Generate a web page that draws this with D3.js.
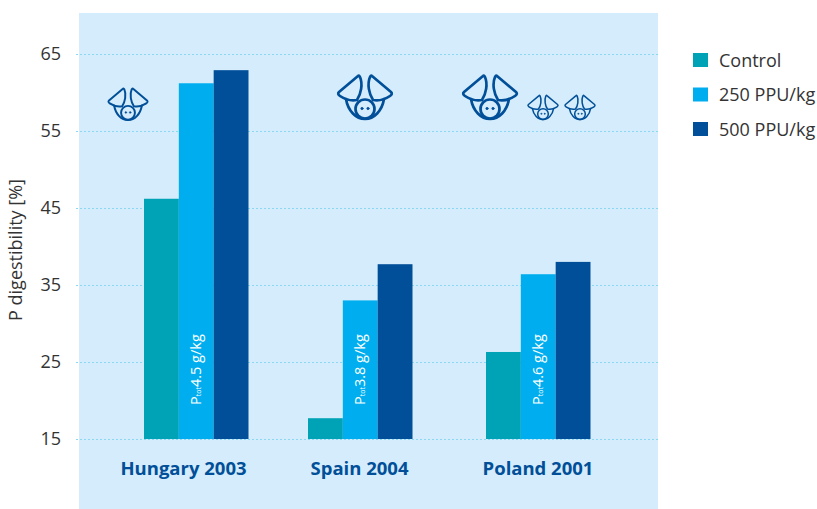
<!DOCTYPE html>
<html>
<head>
<meta charset="utf-8">
<script src="https://cdn.jsdelivr.net/npm/d3@7"></script>
<style>
body { margin: 0; background: #fff; }
svg { display: block; }
text { font-family: "Open Sans", sans-serif; }
</style>
</head>
<body>
<div id="chart"></div>
<script>
// data
var countries = ["Hungary 2003", "Spain 2004", "Poland 2001"];
var series = ["Control", "250 PPU/kg", "500 PPU/kg"];
var control = [46.2, 17.7, 26.3];
var ppu250 = [61.2, 33, 36.4];
var ppu500 = [62.9, 37.7, 38];
var ptot = ["4.5", "3.8", "4.6"];
var yTicks = [15, 25, 35, 45, 55, 65];
var colors = ["#00a3b5", "#00aeef", "#004f98"];

var width = 817, height = 509;
var svg = d3.select("#chart").append("svg")
    .attr("width", width)
    .attr("height", height);

// background panel
svg.append("rect")
    .attr("x", 79).attr("y", 13)
    .attr("width", 579).attr("height", 496)
    .attr("fill", "#d4ecfb");

var y = d3.scaleLinear().domain([15, 65]).range([439, 54]);

// groups are not evenly spaced in the original
var groupX = d3.scaleOrdinal().domain(countries).range([144, 308, 486]);
var labelX = d3.scaleOrdinal().domain(countries).range([183.5, 359.5, 538]);
var barX = d3.scaleBand().domain(series).range([0, 104.5]);

// y axis + grid
var yAxis = d3.axisLeft(y).tickValues(yTicks).tickSize(584).tickPadding(13);
var gy = svg.append("g")
    .attr("transform", "translate(658,0)")
    .call(yAxis);
gy.select(".domain").remove();
gy.selectAll(".tick line")
    .attr("stroke", "#8ad8f6")
    .attr("stroke-width", 1)
    .attr("stroke-dasharray", "2,2");
gy.selectAll(".tick text")
    .attr("font-size", 18)
    .attr("fill", "#333")
    .style("font-family", '"Open Sans", sans-serif');

svg.append("text")
    .attr("transform", "translate(22,250) rotate(-90)")
    .attr("text-anchor", "middle")
    .attr("font-size", 18)
    .attr("fill", "#333")
    .text("P digestibility [%]");

// bars
[control, ppu250, ppu500].forEach(function (values, s) {
    svg.append("g").selectAll("rect")
        .data(values)
        .enter().append("rect")
        .attr("x", function (d, i) { return groupX(countries[i]) + barX(series[s]); })
        .attr("y", function (d) { return y(d); })
        .attr("width", barX.bandwidth())
        .attr("height", function (d) { return y(15) - y(d); })
        .attr("fill", colors[s]);
});

// rotated P tot labels inside the middle bar
var ptotLabel = svg.append("g").selectAll("text")
    .data(ptot)
    .enter().append("text")
    .attr("transform", function (d, i) {
        var cx = groupX(countries[i]) + barX(series[1]) + barX.bandwidth() / 2;
        return "translate(" + (cx + 5) + ",405) rotate(-90)";
    })
    .attr("font-size", 14.5)
    .attr("fill", "#fff");
ptotLabel.append("tspan").text("P");
ptotLabel.append("tspan").attr("font-size", 7).text("tot");
ptotLabel.append("tspan").text(function (d) { return d + " g/kg"; });

// country labels
svg.append("g").selectAll("text")
    .data(countries)
    .enter().append("text")
    .attr("x", function (d) { return labelX(d); })
    .attr("y", 475)
    .attr("text-anchor", "middle")
    .attr("font-size", 18.5)
    .attr("font-weight", 700)
    .attr("fill", "#004f98")
    .text(function (d) { return d; });

// legend
var legend = svg.append("g").selectAll("g")
    .data(series)
    .enter().append("g")
    .attr("transform", function (d, i) { return "translate(693," + (53 + i * 34.5) + ")"; });
legend.append("rect")
    .attr("width", 15).attr("height", 14)
    .attr("fill", function (d, i) { return colors[i]; });
legend.append("text")
    .attr("x", 26).attr("y", 13.5)
    .attr("font-size", 18)
    .attr("fill", "#333")
    .text(function (d) { return d; });

// pig head icon, one per pen size
var pigs = [
    { x: 128, y: 88, s: 0.73 },
    { x: 365, y: 75, s: 1 },
    { x: 490, y: 75, s: 1 },
    { x: 543, y: 95, s: 0.56 },
    { x: 580, y: 95, s: 0.56 }
];
var pig = svg.append("g").selectAll("g")
    .data(pigs)
    .enter().append("g")
    .attr("transform", function (d) { return "translate(" + d.x + "," + d.y + ") scale(" + d.s + ")"; })
    .attr("fill", "none")
    .attr("stroke", "#004f98")
    .attr("stroke-width", 2.7)
    .attr("stroke-linejoin", "round")
    .attr("stroke-linecap", "round");
pig.append("path").attr("d", "M-7,1 L-26,17 Q-28,19 -25,21 C-19,25 -13,26 -8,25 C-4,19 -2,9 -5,2 Q-6,0 -7,1Z");
pig.append("path").attr("d", "M7,1 L26,17 Q28,19 25,21 C19,25 13,26 8,25 C4,19 2,9 5,2 Q6,0 7,1Z");
pig.append("path").attr("d", "M-19,24 C-17,36 -9,44 0,44 C9,44 17,36 19,24");
pig.append("circle").attr("cx", 0).attr("cy", 34).attr("r", 9.5);
pig.append("circle").attr("cx", -3).attr("cy", 33.5).attr("r", 1.2).attr("fill", "#004f98").attr("stroke-width", 0.6);
pig.append("circle").attr("cx", 3).attr("cy", 33.5).attr("r", 1.2).attr("fill", "#004f98").attr("stroke-width", 0.6);
</script>
</body>
</html>
